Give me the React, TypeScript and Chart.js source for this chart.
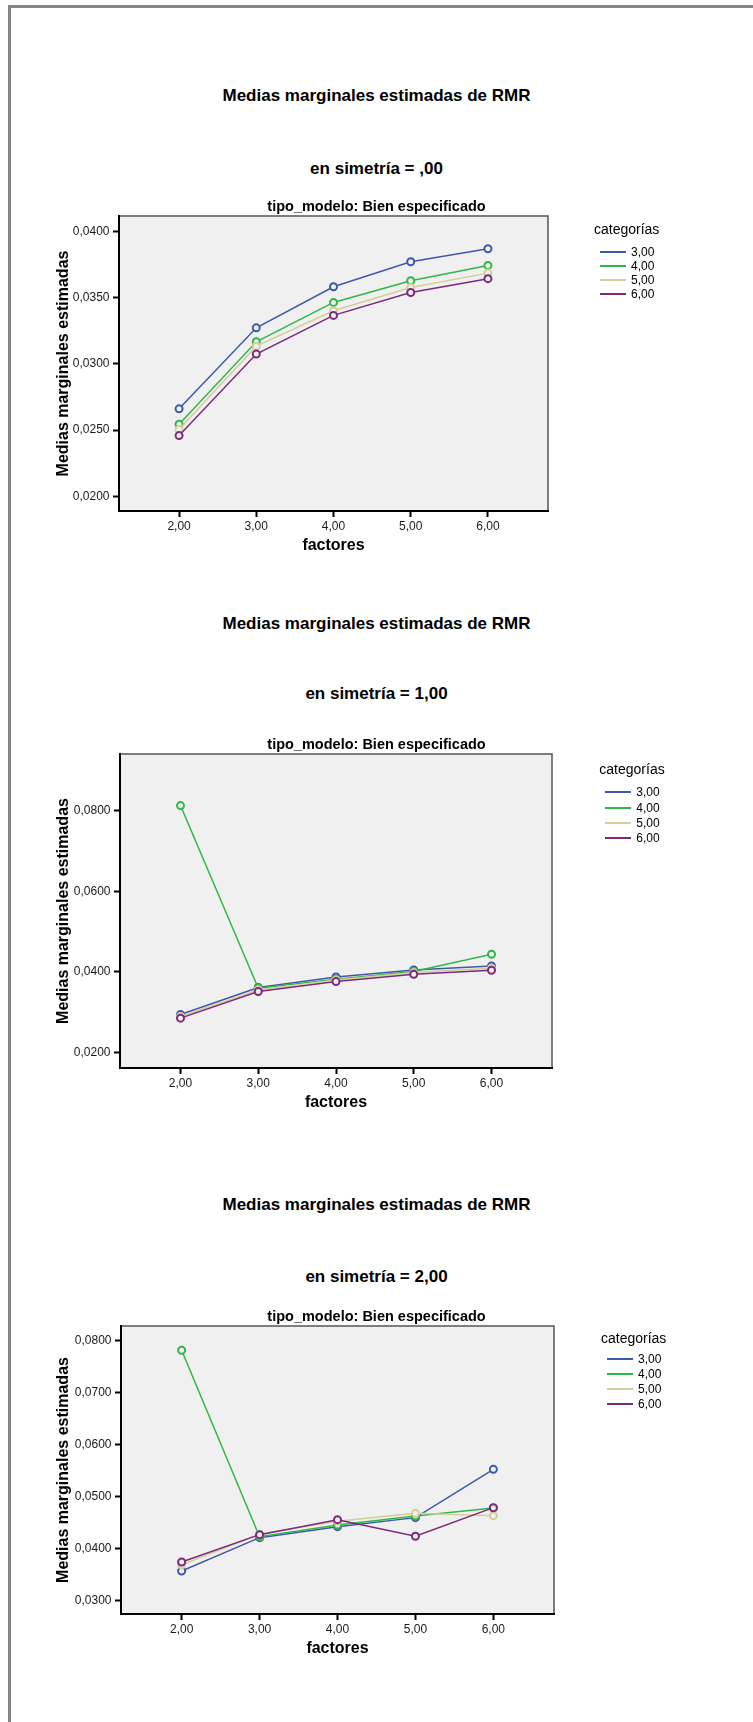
import React, { useEffect, useRef } from "react";
import { Chart, registerables } from "chart.js";

Chart.register(...registerables);

// Factor levels on the x axis and category series
const FACTORES = [2, 3, 4, 5, 6];
const CATEGORIAS = ["3,00", "4,00", "5,00", "6,00"];
const COLORES = ["#3e58ac", "#2eb848", "#d3ce97", "#7c287d"];

// simetría = ,00
const S0_CAT3 = [0.02661, 0.03272, 0.03582, 0.03771, 0.03869];
const S0_CAT4 = [0.02545, 0.03167, 0.03464, 0.03627, 0.03743];
const S0_CAT5 = [0.02505, 0.03134, 0.03401, 0.03577, 0.03685];
const S0_CAT6 = [0.02459, 0.03074, 0.03366, 0.03539, 0.03643];

// simetría = 1,00
const S1_CAT3 = [0.02942, 0.03612, 0.03876, 0.0405, 0.04149];
const S1_CAT4 = [0.08132, 0.03595, 0.0382, 0.04008, 0.04438];
const S1_CAT5 = [0.02893, 0.03554, 0.03802, 0.03983, 0.04091];
const S1_CAT6 = [0.02851, 0.03512, 0.0376, 0.03942, 0.04041];

// simetría = 2,00
const S2_CAT3 = [0.03577, 0.04218, 0.04429, 0.04603, 0.05532];
const S2_CAT4 = [0.07821, 0.04237, 0.04462, 0.04635, 0.04788];
const S2_CAT5 = [0.03692, 0.04288, 0.04532, 0.04686, 0.04641];
const S2_CAT6 = [0.0375, 0.04276, 0.04564, 0.04244, 0.04795];

// Y axis tick values per panel
const Y_TICKS_S0 = [0.02, 0.025, 0.03, 0.035, 0.04];
const Y_TICKS_S1 = [0.02, 0.04, 0.06, 0.08];
const Y_TICKS_S2 = [0.03, 0.04, 0.05, 0.06, 0.07, 0.08];

const TITULO = "Medias marginales estimadas de RMR";
const SUBTITULOS = ["en simetría = ,00", "en simetría = 1,00", "en simetría = 2,00"];
const TITULO_PANEL = "tipo_modelo: Bien especificado";
const EJE_X = "factores";
const EJE_Y = "Medias marginales estimadas";
const LEYENDA = "categorías";

const FONT = '"Liberation Sans", Arial, Helvetica, sans-serif';
const PLOT_BG = "#f0f0f0";
const PAGE_W = 753;

type Panel = {
  series: number[][];
  yTicks: number[];
  yMin: number;
  yMax: number;
  xMin: number;
  xMax: number;
  canvasTop: number;
  canvasH: number;
  areaLeft: number;
  areaRight: number;
  titleY: number;
  subY: number;
  legLeft: number;
  legTitleY: number;
  legRowY: number;
  legGap: number;
};

const PANELS: Panel[] = [
  {
    series: [S0_CAT3, S0_CAT4, S0_CAT5, S0_CAT6],
    yTicks: Y_TICKS_S0,
    yMin: 0.0189,
    yMax: 0.04116,
    xMin: 1.222,
    xMax: 6.778,
    canvasTop: 186,
    canvasH: 375,
    areaLeft: 119,
    areaRight: 548,
    titleY: 95.7,
    subY: 169,
    legLeft: 594,
    legTitleY: 229.3,
    legRowY: 251.7,
    legGap: 14.2,
  },
  {
    series: [S1_CAT3, S1_CAT4, S1_CAT5, S1_CAT6],
    yTicks: Y_TICKS_S1,
    yMin: 0.01613,
    yMax: 0.09413,
    xMin: 1.222,
    xMax: 6.778,
    canvasTop: 724,
    canvasH: 394,
    areaLeft: 120,
    areaRight: 552,
    titleY: 623.5,
    subY: 693.7,
    legLeft: 599.3,
    legTitleY: 769.3,
    legRowY: 792.3,
    legGap: 15.3,
  },
  {
    series: [S2_CAT3, S2_CAT4, S2_CAT5, S2_CAT6],
    yTicks: Y_TICKS_S2,
    yMin: 0.0275,
    yMax: 0.08288,
    xMin: 1.222,
    xMax: 6.778,
    canvasTop: 1296,
    canvasH: 368,
    areaLeft: 121,
    areaRight: 554,
    titleY: 1205,
    subY: 1276.6,
    legLeft: 601,
    legTitleY: 1338,
    legRowY: 1359,
    legGap: 15,
  },
];

const fmt = (v: number, d: number) => v.toFixed(d).replace(".", ",");

// Grey plot background plus the thin top/right frame lines
const plotFrame = {
  id: "plotFrame",
  beforeDraw(chart: any) {
    const { ctx, chartArea } = chart;
    const { left, top, right, bottom } = chartArea;
    ctx.save();
    ctx.fillStyle = PLOT_BG;
    ctx.fillRect(left, top, right - left, bottom - top);
    ctx.strokeStyle = "#555555";
    ctx.lineWidth = 1.5;
    ctx.beginPath();
    ctx.moveTo(left, top);
    ctx.lineTo(right, top);
    ctx.lineTo(right, bottom);
    ctx.stroke();
    ctx.restore();
  },
};

function PanelChart({ p }: { p: Panel }) {
  const ref = useRef<HTMLCanvasElement>(null);

  useEffect(() => {
    if (!ref.current) return;
    const n = p.series.length;
    const chart = new Chart(ref.current, {
      type: "line",
      data: {
        datasets: p.series.map((vals, i) => ({
          label: CATEGORIAS[i],
          data: FACTORES.map((x, j) => ({ x, y: vals[j] })),
          borderColor: COLORES[i],
          backgroundColor: COLORES[i],
          borderWidth: 1.5,
          pointRadius: 3.5,
          pointBorderWidth: 2,
          pointBackgroundColor: PLOT_BG,
          pointBorderColor: COLORES[i],
          tension: 0,
          order: n - 1 - i,
          yAxisID: "y",
        })),
      },
      options: {
        animation: false,
        responsive: false,
        maintainAspectRatio: false,
        events: [],
        layout: { padding: 0 },
        plugins: {
          legend: { display: false },
          tooltip: { enabled: false },
          title: {
            display: true,
            text: TITULO_PANEL,
            color: "#000",
            font: { family: FONT, size: 14.5, weight: "bold", lineHeight: 1 },
            padding: { top: 13.7, bottom: 1.8 },
          },
        },
        scales: {
          x: {
            type: "linear",
            position: "bottom",
            min: p.xMin,
            max: p.xMax,
            afterBuildTicks: (s: any) => {
              s.ticks = FACTORES.map((v) => ({ value: v }));
            },
            afterFit: (s: any) => {
              s.height = 50;
            },
            ticks: {
              callback: (v: any) => fmt(Number(v), 2),
              color: "#1a1a1a",
              font: { family: FONT, size: 12 },
              padding: 2.5,
              maxRotation: 0,
              autoSkip: false,
            },
            grid: {
              display: true,
              drawOnChartArea: false,
              drawTicks: true,
              tickLength: 6,
              tickWidth: 2,
              tickColor: "#000",
            },
            border: { display: true, color: "#000", width: 2 },
            title: {
              display: true,
              text: EJE_X,
              color: "#000",
              font: { family: FONT, size: 16, weight: "bold", lineHeight: 1.2 },
              padding: { top: 0, bottom: 5.4 },
            },
          },
          y: {
            type: "linear",
            position: "left",
            min: p.yMin,
            max: p.yMax,
            afterBuildTicks: (s: any) => {
              s.ticks = p.yTicks.map((v) => ({ value: v }));
            },
            afterFit: (s: any) => {
              s.width = p.areaLeft;
            },
            ticks: {
              callback: (v: any) => fmt(Number(v), 4),
              color: "#1a1a1a",
              font: { family: FONT, size: 12 },
              padding: 3.5,
              autoSkip: false,
            },
            grid: {
              display: true,
              drawOnChartArea: false,
              drawTicks: true,
              tickLength: 6,
              tickWidth: 2,
              tickColor: "#000",
            },
            border: { display: true, color: "#000", width: 2 },
            title: {
              display: true,
              text: EJE_Y,
              color: "#000",
              font: { family: FONT, size: 16, weight: "bold", lineHeight: 1.2 },
              padding: { top: 54.4, bottom: 0 },
            },
          },
          // reserves the space on the right where the legend sits
          legendSpace: {
            type: "linear",
            position: "right",
            display: true,
            afterFit: (s: any) => {
              s.width = PAGE_W - p.areaRight;
            },
            ticks: { display: false },
            grid: { display: false, drawTicks: false },
            border: { display: false },
          },
        },
      } as any,
      plugins: [plotFrame],
    });
    return () => chart.destroy();
  }, [p]);

  return (
    <canvas
      ref={ref}
      width={PAGE_W}
      height={p.canvasH}
      style={{
        position: "absolute",
        left: 0,
        top: p.canvasTop,
        width: PAGE_W,
        height: p.canvasH,
        display: "block",
      }}
    />
  );
}

function Legend({ p }: { p: Panel }) {
  return (
    <>
      <div
        style={{
          position: "absolute",
          left: p.legLeft,
          top: p.legTitleY - 9,
          height: 18,
          lineHeight: "18px",
          fontSize: 14,
          fontFamily: FONT,
          color: "#000",
          whiteSpace: "nowrap",
        }}
      >
        {LEYENDA}
      </div>
      {CATEGORIAS.map((c, i) => (
        <div
          key={c}
          style={{
            position: "absolute",
            left: p.legLeft + 6,
            top: p.legRowY + i * p.legGap - 8,
            height: 16,
            display: "flex",
            alignItems: "center",
            whiteSpace: "nowrap",
          }}
        >
          <span
            style={{
              display: "inline-block",
              width: 26,
              height: 2,
              background: COLORES[i],
              marginRight: 5,
            }}
          />
          <span style={{ fontSize: 12, fontFamily: FONT, color: "#000", lineHeight: "16px" }}>
            {c}
          </span>
        </div>
      ))}
    </>
  );
}

function Heading({ text, y }: { text: string; y: number }) {
  return (
    <div
      style={{
        position: "absolute",
        left: 0,
        top: y - 10,
        width: PAGE_W,
        height: 20,
        lineHeight: "20px",
        textAlign: "center",
        fontFamily: FONT,
        fontWeight: "bold",
        fontSize: 17,
        color: "#000",
        whiteSpace: "nowrap",
      }}
    >
      {text}
    </div>
  );
}

export default function App() {
  return (
    <div
      style={{
        position: "absolute",
        left: 0,
        top: 0,
        width: PAGE_W,
        height: 1722,
        overflow: "hidden",
        background: "#fff",
      }}
    >
      <div
        style={{
          position: "absolute",
          left: 8,
          top: 5,
          width: PAGE_W,
          height: 1722,
          borderLeft: "3px solid #858585",
          borderTop: "3px solid #858585",
        }}
      />
      {PANELS.map((p, i) => (
        <React.Fragment key={i}>
          <Heading text={TITULO} y={p.titleY} />
          <Heading text={SUBTITULOS[i]} y={p.subY} />
          <PanelChart p={p} />
          <Legend p={p} />
        </React.Fragment>
      ))}
    </div>
  );
}
